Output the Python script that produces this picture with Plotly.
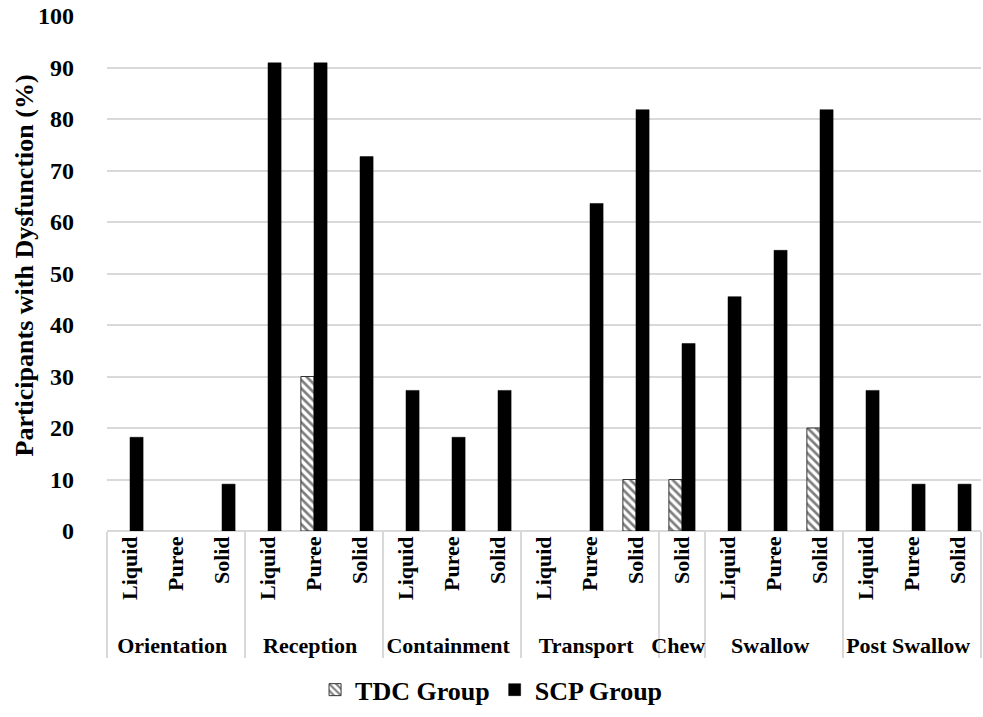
import plotly.graph_objects as go

groups = ["Orientation"] * 3 + ["Reception"] * 3 + ["Containment"] * 3 + ["Transport"] * 3 + ["Chew"] + ["Swallow"] * 3 + ["Post Swallow"] * 3
textures = ["Liquid", "Puree", "Solid"] * 4 + ["Solid"] + ["Liquid", "Puree", "Solid"] * 2

tdc_values = [None, None, None, None, 30, None, None, None, None, None, None, 10, 10, None, None, 20, None, None, None]
scp_values = [18.2, None, 9.1, 90.9, 90.9, 72.7, 27.3, 18.2, 27.3, None, 63.6, 81.8, 36.4, 45.5, 54.5, 81.8, 27.3, 9.1, 9.1]

y_ticks = list(range(0, 101, 10))
y_title = "Participants with Dysfunction (%)"

FONT = "Liberation Serif"
PAD = "\u00a0\u00a0"
tick_text = [PAD + t for t in textures]

fig = go.Figure()
fig.add_trace(go.Bar(
    name="TDC Group",
    x=[groups, tick_text],
    y=tdc_values,
    marker=dict(
        color="white",
        line=dict(color="#333333", width=1),
        pattern=dict(shape="\\", fgcolor="black", bgcolor="white", size=6, solidity=0.45),
    ),
))
fig.add_trace(go.Bar(
    name="SCP Group",
    x=[groups, tick_text],
    y=scp_values,
    marker=dict(color="black", line=dict(color="black", width=0.5)),
))

fig.update_layout(
    width=983, height=717,
    barmode="group",
    bargap=0.43,
    bargroupgap=0,
    plot_bgcolor="white",
    paper_bgcolor="white",
    margin=dict(l=107, r=2, t=16, b=186, autoexpand=False),
    font=dict(family=FONT, color="black"),
    legend=dict(
        orientation="h",
        x=0.44, xanchor="center",
        yref="container", y=0.038, yanchor="middle",
        font=dict(family=FONT, size=26, color="black", weight="bold"),
        itemwidth=30,
        traceorder="normal",
    ),
)
fig.add_annotation(
    text=y_title, textangle=-90,
    xref="paper", yref="paper", x=0, y=0.5,
    xanchor="center", yanchor="middle",
    xshift=-83, yshift=8,
    showarrow=False,
    font=dict(family=FONT, size=26, color="black", weight="bold"),
)
fig.update_yaxes(
    range=[0, 100],
    tickvals=y_ticks,
    automargin=False,
    showgrid=True, gridcolor="#d9d9d9", gridwidth=2,
    zeroline=True, zerolinecolor="#d9d9d9", zerolinewidth=2,
    tickfont=dict(family=FONT, size=24, color="black", weight="bold"),
    ticklabelstandoff=32,
)
fig.update_xaxes(
    type="multicategory",
    tickangle=-90,
    automargin=False,
    showline=False,
    ticks="outside", ticklen=8, tickcolor="rgba(0,0,0,0)",
    showdividers=True, dividercolor="#d9d9d9", dividerwidth=2,
    tickfont=dict(family=FONT, size=22, color="black", weight="bold"),
)

fig.write_html("out.html", config={"displayModeBar": False},
               post_script="document.body.style.margin='0';")
